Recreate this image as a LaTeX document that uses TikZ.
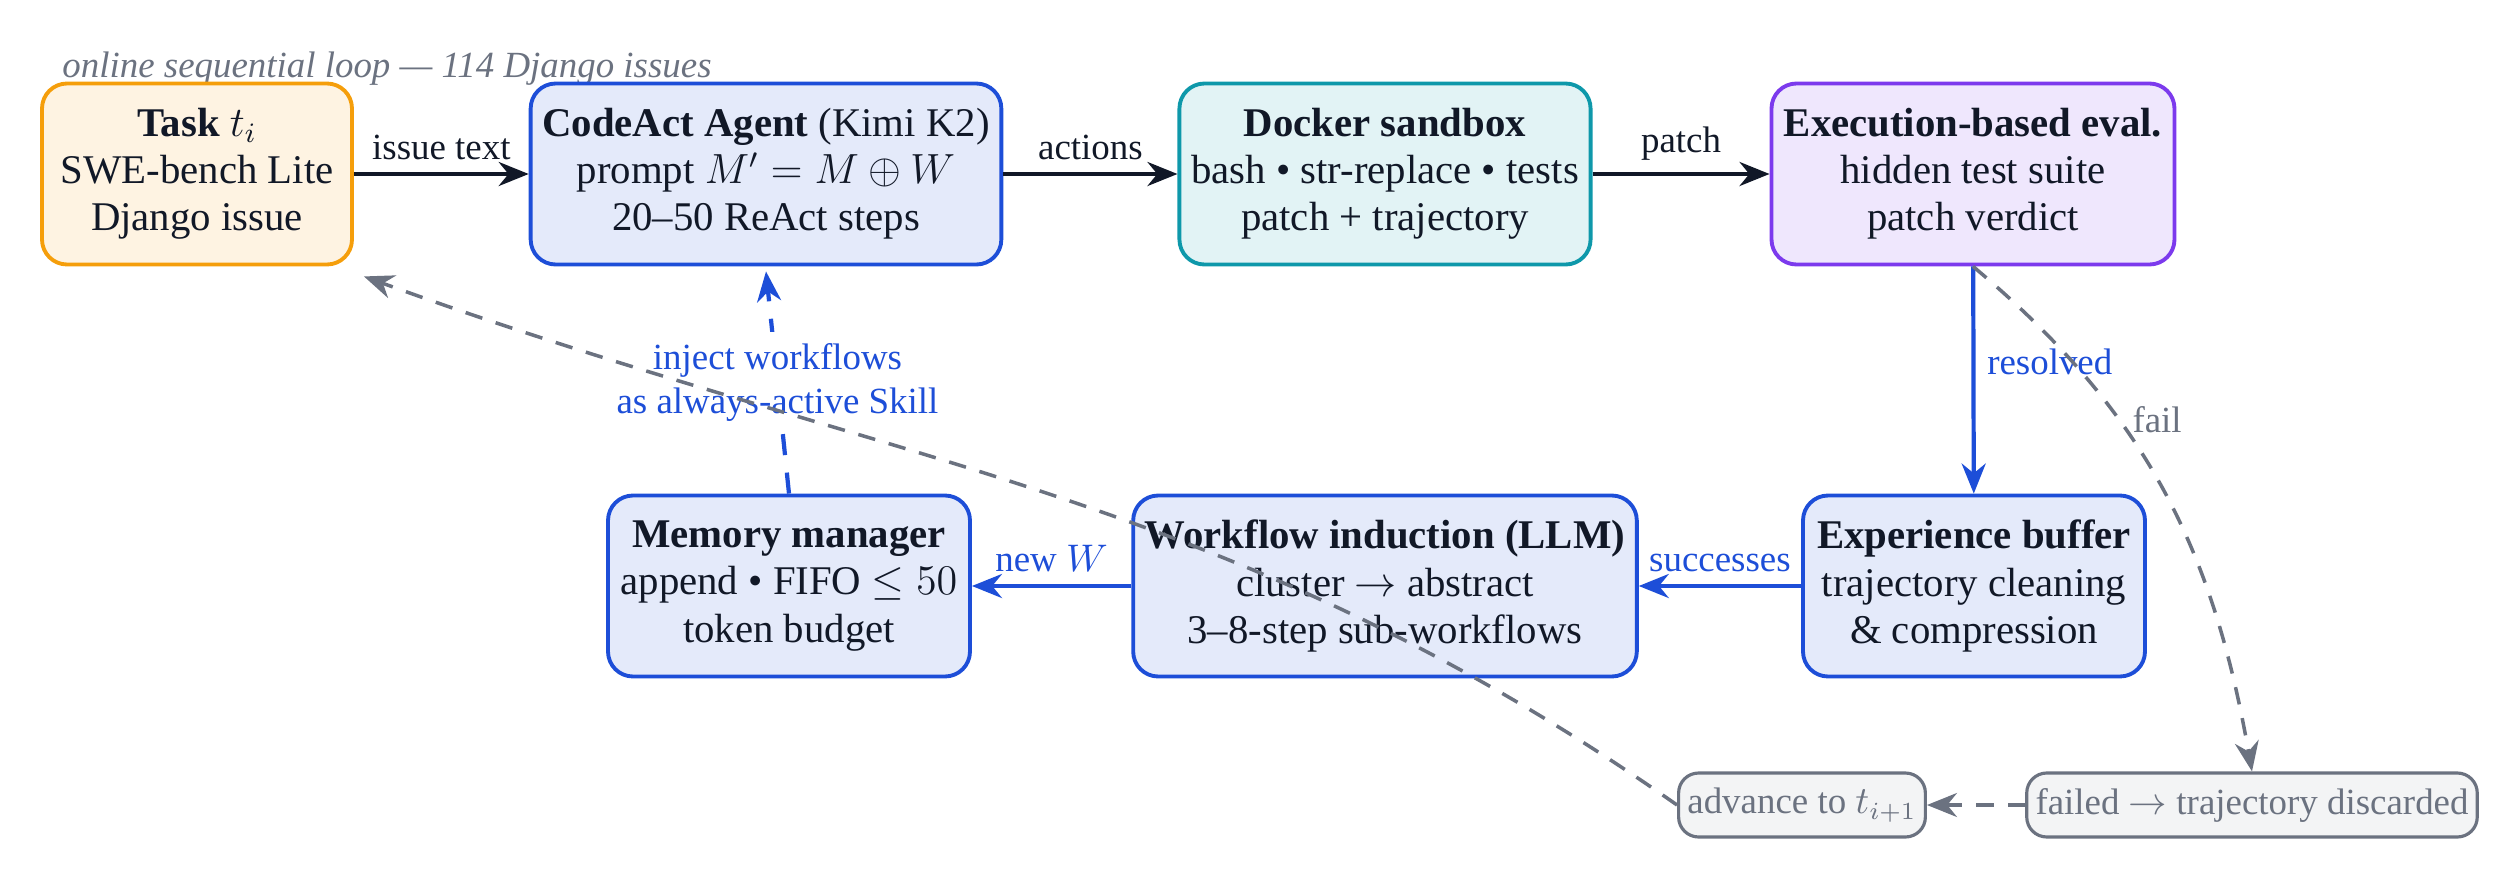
\documentclass[tikz,border=0pt]{standalone}
\usepackage{fontspec}
\setmainfont{Liberation Serif}
\usepackage{amsmath,amssymb}
\usepackage{xcolor}
\usetikzlibrary{arrows.meta,positioning,calc}
\definecolor{inkc}{HTML}{111827}
\definecolor{bluec}{HTML}{1D4ED8}
\definecolor{grayc}{HTML}{6B7280}
\definecolor{orangec}{HTML}{F59E0B}
\definecolor{tealc}{HTML}{0E98AA}
\definecolor{violetc}{HTML}{7C3AED}

\begin{document}
\begin{tikzpicture}[
    font=\fontsize{11.6}{13.4}\selectfont, text=inkc,
    box/.style={rectangle, rounded corners=2.5mm, line width=1.1pt, minimum height=1.81cm, align=center, draw=bluec, fill=bluec!12},
    gbox/.style={rectangle, rounded corners=2mm, line width=0.9pt, draw=grayc, fill=grayc!8, text=grayc, minimum height=0.64cm, inner sep=2.5pt, font=\fontsize{10.5}{12}\selectfont},
    arrow/.style={-{Stealth[length=3mm,width=2.4mm]}, line width=1.2pt, draw=inkc},
    barrow/.style={-{Stealth[length=3mm,width=2.4mm]}, line width=1.2pt, draw=bluec},
    garrow/.style={-{Stealth[length=3mm,width=2.4mm]}, line width=1pt, draw=grayc, dashed, dash pattern=on 5pt off 4pt},
    lab/.style={font=\fontsize{10.5}{12.5}\selectfont, align=center}
]
\useasboundingbox (0,0) rectangle (25.13,8.85);
\node[text=grayc, anchor=west, font=\fontsize{10.5}{12}\selectfont\itshape] (title) at (0.5,8.16) {online sequential loop --- 114 Django issues};
% top row
\node[box, draw=orangec, fill=orangec!12, minimum width=3.1cm] (task) at (1.97,7.11) {\textbf{Task} $t_i$\\SWE-bench Lite\\Django issue};
\node[box, minimum width=4.68cm] (agent) at (7.66,7.11) {\textbf{CodeAct Agent} (Kimi K2)\\prompt $M' = M \oplus W$\\20--50 ReAct steps};
\node[box, draw=tealc, fill=tealc!12, minimum width=4.1cm] (docker) at (13.85,7.11) {\textbf{Docker sandbox}\\bash \textbullet{} str-replace \textbullet{} tests\\patch + trajectory};
\node[box, draw=violetc, fill=violetc!12, minimum width=4.03cm] (eval) at (19.73,7.11) {\textbf{Execution-based eval.}\\hidden test suite\\patch verdict};
% middle row
\node[box, minimum width=3.62cm] (memory) at (7.89,2.99) {\textbf{Memory manager}\\append \textbullet{} FIFO $\le 50$\\token budget};
\node[box, minimum width=4.94cm] (induct) at (13.85,2.99) {\textbf{Workflow induction (LLM)}\\cluster $\rightarrow$ abstract\\3--8-step sub-workflows};
\node[box, minimum width=3.42cm] (buffer) at (19.74,2.99) {\textbf{Experience buffer}\\trajectory cleaning\\\& compression};
% bottom row
\node[gbox, minimum width=2.45cm] (advance) at (18.02,0.80) {advance to $t_{i+1}$};
\node[gbox, minimum width=4.15cm] (failed) at (22.52,0.80) {failed $\rightarrow$ trajectory discarded};
% connectors
\draw[arrow] (task) -- node[lab, above] {issue text} (agent);
\draw[arrow] (agent) -- node[lab, above] {actions} (docker);
\draw[arrow] (docker) -- node[lab, above] {patch} (eval);
\draw[barrow] (eval) -- node[lab, right, text=bluec, pos=0.42] {resolved} (buffer);
\draw[barrow] (buffer) -- node[lab, above, text=bluec] {successes} (induct);
\draw[barrow] (induct) -- node[lab, above, text=bluec] {new $W$} (memory);
\draw[barrow, dashed, dash pattern=on 6pt off 5pt] (memory.north) -- node[lab, text=bluec, fill=white, pos=0.5] {inject workflows\\as always-active Skill} ($(agent.south)+(0,-0.05)$);
\draw[garrow] (eval.south) to[out=-40, in=100] node[lab, right, text=grayc, pos=0.35] {fail} (failed.north);
\draw[garrow] (failed) -- (advance);
\draw[garrow] (advance.west) to[out=145, in=-20] ($(task.south east)+(0.1,-0.1)$);
\end{tikzpicture}
\end{document}
